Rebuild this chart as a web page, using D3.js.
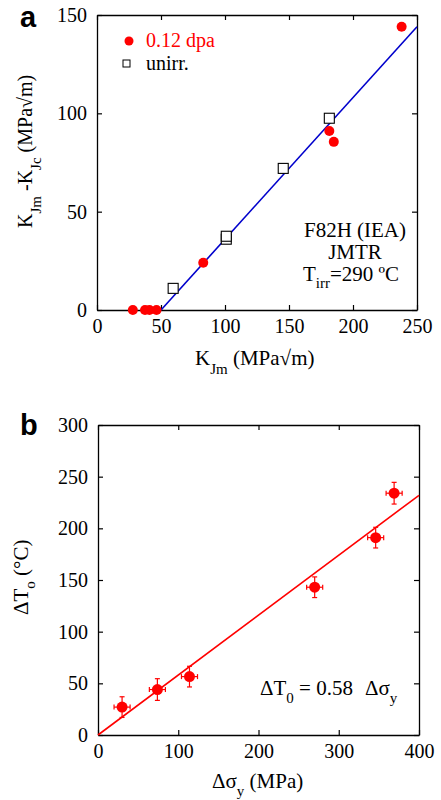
<!DOCTYPE html>
<html>
<head>
    <meta charset="utf-8">
    <script src="https://cdn.jsdelivr.net/npm/d3@7"></script>
    <style>
        body { margin: 0; background: #fff; }
        text { font-family: "Liberation Serif", "Times New Roman", serif; }
        text.panel { font-family: "Liberation Sans", Arial, sans-serif; font-weight: bold; }
    </style>
</head>
<body>
    <svg width="441" height="800" id="mainsvg"></svg>
    <script>
        // panel a: K_Jm vs K_Jm - K_Jc
        const irrK = [28, 37.5, 41, 46.5, 83, 181.5, 185, 238];
        const irrDK = [0, 0, 0, 0, 24, 91, 85.5, 144];
        const unirrK = [59.5, 101, 101, 145.5, 181.5];
        const unirrDK = [11, 36, 37.5, 72, 97.5];
        const fitA = [[50, 0], [250, 144]];
        const ticksAX = [0, 50, 100, 150, 200, 250];
        const ticksAY = [0, 50, 100, 150];

        // panel b: delta sigma_y vs delta T0
        const dSig = [30, 74, 114, 270, 346, 369];
        const dT0 = [27, 44, 56.5, 143, 191, 234];
        const errSig = [10, 10, 10, 10, 10, 10];
        const errT0 = [10, 10.5, 10, 10, 10, 10.5];
        const fitSlope = 0.58;
        const ticksBX = [0, 100, 200, 300, 400];
        const ticksBY = [0, 50, 100, 150, 200, 250, 300];

        const svg = d3.select('#mainsvg');
        const fs = 20;   // tick labels
        const fl = 21;   // labels and notes
        const fsub = 15; // subscripts

        function frame(g, x, y, xt, yt) {
            const [x0, x1] = x.range();
            const [y0, y1] = y.range();
            g.append('g').attr('transform', `translate(0,${y0})`)
                .call(d3.axisBottom(x).tickValues(xt).tickSizeInner(-5).tickSizeOuter(0).tickPadding(9).tickFormat(d3.format('d')));
            g.append('g').attr('transform', `translate(0,${y1})`)
                .call(d3.axisTop(x).tickValues(xt).tickSizeInner(-5).tickSizeOuter(0).tickFormat(''));
            g.append('g').attr('transform', `translate(${x0},0)`)
                .call(d3.axisLeft(y).tickValues(yt).tickSizeInner(-5).tickSizeOuter(0).tickPadding(10).tickFormat(d3.format('d')));
            g.append('g').attr('transform', `translate(${x1},0)`)
                .call(d3.axisRight(y).tickValues(yt).tickSizeInner(-5).tickSizeOuter(0).tickFormat(''));
            g.selectAll('.domain').attr('stroke', '#000').attr('stroke-width', 1.3);
            g.selectAll('.tick line').attr('stroke', '#000').attr('stroke-width', 1.2);
            g.selectAll('.tick text').attr('font-size', fs).attr('fill', '#000');
        }

        // ---------- panel a ----------
        const xa = d3.scaleLinear().domain([0, 250]).range([97, 417]);
        const ya = d3.scaleLinear().domain([0, 150]).range([310, 15]);
        const ga = svg.append('g');
        frame(ga, xa, ya, ticksAX, ticksAY);

        ga.append('path')
            .attr('d', d3.line().x(d => xa(d[0])).y(d => ya(d[1]))(fitA))
            .attr('stroke', '#0000cc').attr('stroke-width', 1.6).attr('fill', 'none');

        ga.selectAll('.sq').data(unirrK).join('rect')
            .attr('class', 'sq')
            .attr('x', d => xa(d) - 5).attr('y', (d, i) => ya(unirrDK[i]) - 5)
            .attr('width', 10).attr('height', 10)
            .attr('fill', '#fff').attr('stroke', '#000').attr('stroke-width', 1.1);

        ga.selectAll('.dot').data(irrK).join('circle')
            .attr('class', 'dot')
            .attr('cx', d => xa(d)).attr('cy', (d, i) => ya(irrDK[i]))
            .attr('r', 5).attr('fill', '#ff0000');

        // legend
        ga.append('circle').attr('cx', 129).attr('cy', 41).attr('r', 4.5).attr('fill', '#ff0000');
        ga.append('text').attr('x', 146).attr('y', 47).attr('font-size', 20).attr('fill', '#ff0000').text('0.12 dpa');
        ga.append('rect').attr('x', 123).attr('y', 60).attr('width', 7).attr('height', 7)
            .attr('fill', '#fff').attr('stroke', '#000').attr('stroke-width', 1);
        ga.append('text').attr('x', 146).attr('y', 70).attr('font-size', 20).text('unirr.');

        // note
        const note = ga.append('text').attr('font-size', fl).attr('text-anchor', 'middle');
        note.append('tspan').attr('x', 355).attr('y', 237).text('F82H (IEA)');
        note.append('tspan').attr('x', 355).attr('y', 259).text('JMTR');
        const t3 = ga.append('text').attr('font-size', fl).attr('x', 303).attr('y', 281);
        t3.append('tspan').text('T');
        t3.append('tspan').attr('font-size', fsub).attr('dy', 7).text('irr');
        t3.append('tspan').attr('dy', -7).text('=290 ºC');

        // axis labels
        const xla = ga.append('text').attr('font-size', fl).attr('x', 195).attr('y', 365);
        xla.append('tspan').text('K');
        xla.append('tspan').attr('font-size', fsub).attr('dy', 9).text('Jm');
        xla.append('tspan').attr('dy', -9).text(' (MPa√m)');

        const yla = ga.append('text').attr('font-size', 20)
            .attr('transform', 'translate(32,228) rotate(-90)');
        yla.append('tspan').text('K');
        yla.append('tspan').attr('font-size', fsub).attr('dy', 9).text('Jm');
        yla.append('tspan').attr('dy', -9).text(' -K');
        yla.append('tspan').attr('font-size', fsub).attr('dy', 9).text('Jc');
        yla.append('tspan').attr('dy', -9).text(' (MPa√m)');

        ga.append('text').attr('class', 'panel').attr('x', 20).attr('y', 27).attr('font-size', 29).text('a');

        // ---------- panel b ----------
        const xb = d3.scaleLinear().domain([0, 400]).range([98, 419]);
        const yb = d3.scaleLinear().domain([0, 300]).range([735, 425]);
        const gb = svg.append('g');
        frame(gb, xb, yb, ticksBX, ticksBY);

        gb.append('line')
            .attr('x1', xb(0)).attr('y1', yb(0))
            .attr('x2', xb(400)).attr('y2', yb(400 * fitSlope))
            .attr('stroke', '#ff0000').attr('stroke-width', 1.6);

        const pts = dSig.map((d, i) => ({ x: d, y: dT0[i], ex: errSig[i], ey: errT0[i] }));
        const eb = gb.selectAll('.err').data(pts).join('g').attr('class', 'err')
            .attr('stroke', '#ff0000').attr('stroke-width', 1.2);
        eb.append('line').attr('x1', d => xb(d.x - d.ex)).attr('x2', d => xb(d.x + d.ex))
            .attr('y1', d => yb(d.y)).attr('y2', d => yb(d.y));
        eb.append('line').attr('x1', d => xb(d.x)).attr('x2', d => xb(d.x))
            .attr('y1', d => yb(d.y - d.ey)).attr('y2', d => yb(d.y + d.ey));
        eb.append('line').attr('x1', d => xb(d.x) - 2.5).attr('x2', d => xb(d.x) + 2.5)
            .attr('y1', d => yb(d.y - d.ey)).attr('y2', d => yb(d.y - d.ey));
        eb.append('line').attr('x1', d => xb(d.x) - 2.5).attr('x2', d => xb(d.x) + 2.5)
            .attr('y1', d => yb(d.y + d.ey)).attr('y2', d => yb(d.y + d.ey));
        eb.append('line').attr('x1', d => xb(d.x - d.ex)).attr('x2', d => xb(d.x - d.ex))
            .attr('y1', d => yb(d.y) - 2.5).attr('y2', d => yb(d.y) + 2.5);
        eb.append('line').attr('x1', d => xb(d.x + d.ex)).attr('x2', d => xb(d.x + d.ex))
            .attr('y1', d => yb(d.y) - 2.5).attr('y2', d => yb(d.y) + 2.5);
        gb.selectAll('.dot').data(pts).join('circle').attr('class', 'dot')
            .attr('cx', d => xb(d.x)).attr('cy', d => yb(d.y)).attr('r', 5.5).attr('fill', '#ff0000');

        const eq = gb.append('text').attr('font-size', fl).attr('x', 260).attr('y', 695);
        eq.append('tspan').text('ΔT');
        eq.append('tspan').attr('font-size', fsub).attr('dy', 8).text('0');
        eq.append('tspan').attr('dy', -8).text(' = 0.58');
        eq.append('tspan').attr('dx', 12).text('Δσ');
        eq.append('tspan').attr('font-size', fsub).attr('dy', 8).text('y');

        const xlb = gb.append('text').attr('font-size', fl).attr('x', 212).attr('y', 788);
        xlb.append('tspan').text('Δσ');
        xlb.append('tspan').attr('font-size', fsub).attr('dy', 8).text('y');
        xlb.append('tspan').attr('dy', -8).text(' (MPa)');

        const ylb = gb.append('text').attr('font-size', fl)
            .attr('transform', 'translate(28,615) rotate(-90)');
        ylb.append('tspan').text('ΔT');
        ylb.append('tspan').attr('font-size', fsub).attr('dy', 7).text('o');
        ylb.append('tspan').attr('dy', -7).text(' (°C)');

        gb.append('text').attr('class', 'panel').attr('x', 20).attr('y', 435).attr('font-size', 29).text('b');
    </script>
</body>
</html>
